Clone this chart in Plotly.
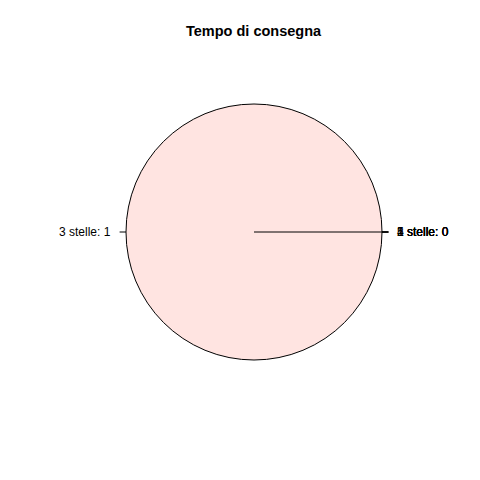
import math
import plotly.graph_objects as go

categories = ["1 stelle", "2 stelle", "3 stelle", "4 stelle", "5 stelle"]
counts = [0, 0, 1, 0, 0]
slice_colors = ["#FFFFFF", "#ADD8E6", "#FFE4E1", "#E0FFFF", "#E6E6FA"]
title_text = "Tempo di consegna"

W = H = 480
cx, cy = 254 / W, 1 - 232 / H
r = 128 / W

fig = go.Figure()
fig.add_trace(go.Pie(
    labels=categories, values=counts, sort=False,
    direction="counterclockwise", rotation=90,
    textinfo="none", showlegend=False,
    marker=dict(colors=slice_colors,
                line=dict(color="black", width=[1 if v > 0 else 0 for v in counts])),
    domain=dict(x=[cx - r, cx + r], y=[cy - r, cy + r]),
))

total = sum(counts)
shapes = []
annotations = []
cum = 0
for lab, v in zip(categories, counts):
    a0 = 2 * math.pi * cum / total
    mid = 2 * math.pi * (cum + v / 2) / total
    cum += v
    if v > 0:
        shapes.append(dict(type="line", xref="paper", yref="paper",
                           x0=cx, y0=cy, x1=cx + r * math.cos(a0), y1=cy + r * math.sin(a0),
                           line=dict(color="black", width=1)))
    c, s = math.cos(mid), math.sin(mid)
    shapes.append(dict(type="line", xref="paper", yref="paper",
                       x0=cx + r * c, y0=cy + r * s, x1=cx + 1.05 * r * c, y1=cy + 1.05 * r * s,
                       line=dict(color="black", width=1)))
    annotations.append(dict(x=cx + 1.1 * r * c, y=cy + 1.1 * r * s, xref="paper", yref="paper",
                            text=f"{lab}: {v}", showarrow=False,
                            xanchor="left" if c > 0 else "right", yanchor="middle",
                            font=dict(family="Liberation Sans, Arial", size=12, color="black")))

annotations.append(dict(x=cx, y=1 - 31 / H, xref="paper", yref="paper",
                        text=f"<b>{title_text}</b>", showarrow=False,
                        xanchor="center", yanchor="middle",
                        font=dict(family="Liberation Sans, Arial", size=14.5, color="black")))

fig.update_layout(width=W, height=H, margin=dict(l=0, r=0, t=0, b=0),
                  paper_bgcolor="white", plot_bgcolor="white",
                  shapes=shapes, annotations=annotations)
fig.write_html("out.html", config={"displayModeBar": False},
               post_script="document.body.style.margin='0';")
